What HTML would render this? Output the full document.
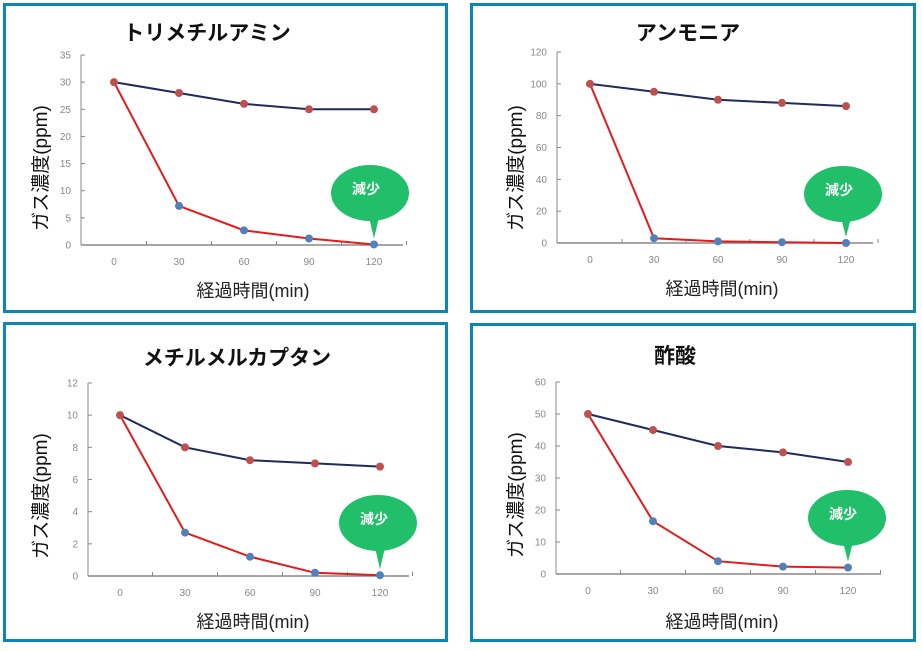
<!DOCTYPE html>
<html><head><meta charset="utf-8">
<style>
html,body{margin:0;padding:0;background:#fff;}
svg{display:block;font-family:"Liberation Sans","Noto Sans CJK JP",sans-serif;}
</style></head>
<body>
<svg id="chart" width="922" height="651" viewBox="0 0 922 651" xmlns="http://www.w3.org/2000/svg"></svg>
<script>
const categories = [0, 30, 60, 90, 120];
const titles = ["トリメチルアミン", "アンモニア", "メチルメルカプタン", "酢酸"];
const yMaxes = [35, 120, 12, 60];
const yStepsVals = [5, 20, 2, 10];
const controlTma = [30, 28, 26, 25, 25];
const treatedTma = [30, 7.2, 2.7, 1.2, 0.1];
const controlNh3 = [100, 95, 90, 88, 86];
const treatedNh3 = [100, 3, 1, 0.5, 0];
const controlMm = [10, 8, 7.2, 7, 6.8];
const treatedMm = [10, 2.7, 1.2, 0.2, 0.05];
const controlAa = [50, 45, 40, 38, 35];
const treatedAa = [50, 16.5, 4, 2.3, 2];

const controls = [controlTma, controlNh3, controlMm, controlAa];
const treateds = [treatedTma, treatedNh3, treatedMm, treatedAa];
// layout (not data)
const layouts = [
  {bx:3,by:3,bw:445,bh:310,ax:81,top:55,bot:245,c0:114,dx:65,xe:403,tx:207,ty:32,xtx:253,xty:290,ytx:40,yty:168,bub:[370,193]},
  {bx:470,by:3,bw:446,bh:310,ax:557,top:52,bot:243,c0:590,dx:64,xe:873,tx:688,ty:32,xtx:722,xty:288,ytx:515,yty:168,bub:[843,194]},
  {bx:3,by:322,bw:445,bh:320,ax:88,top:383,bot:576,c0:120,dx:65,xe:409,tx:237,ty:357,xtx:253,xty:621,ytx:40,yty:496,bub:[378,523]},
  {bx:470,by:323,bw:446,bh:319,ax:556,top:382,bot:574,c0:588,dx:65,xe:881,tx:675,ty:355,xtx:722,xty:621,ytx:515,yty:495,bub:[847,518]}
];
const NS = "http://www.w3.org/2000/svg";
const svg = document.getElementById("chart");
function mk(tag, attrs, parent, text){
  const e = document.createElementNS(NS, tag);
  for (const k in attrs) e.setAttribute(k, attrs[k]);
  if (text !== undefined) e.textContent = text;
  (parent||svg).appendChild(e);
  return e;
}
layouts.forEach((L, i) => {
  const g = mk("g", {});
  
  
  const xS = k => L.c0 + k * L.dx;
  const yS = v => L.bot - v / yMaxes[i] * (L.bot - L.top);
  const frame = mk("rect", {x:L.bx+1.5,y:L.by+1.5,width:L.bw-3,height:L.bh-3,fill:"#fff",stroke:"#0b87b5","stroke-width":3}, g);
  
  
  const t = mk("text", {x:L.tx,y:L.ty+8,"text-anchor":"middle","font-size":21,"font-weight":"bold",fill:"#111"}, g, titles[i]);
  
  
  // axes
  const ya = mk("line", {x1:L.ax,y1:L.top,x2:L.ax,y2:L.bot,stroke:"#888","stroke-width":1}, g);
  
  
  const xa = mk("line", {x1:L.ax,y1:L.bot,x2:L.xe,y2:L.bot,stroke:"#888","stroke-width":1.5}, g);
  
  
  for (let v = 0; v <= yMaxes[i] + 1e-9; v += yStepsVals[i]) {
    const y = yS(v);
    mk("line", {x1:L.ax,y1:y,x2:L.ax+4,y2:y,stroke:"#888"}, g);
    const tl = mk("text", {x:L.ax-10,y:y+3.5,"text-anchor":"end","font-size":10,fill:"#888"}, g, String(v));
    
    
  }
  for (let k = 0; k < categories.length; k++) {
    const x = xS(k);
    mk("line", {x1:x+L.dx/2,y1:L.bot,x2:x+L.dx/2,y2:L.bot-4,stroke:"#888"}, g);
    const xl = mk("text", {x:x,y:L.bot+20,"text-anchor":"middle","font-size":10,fill:"#888"}, g, String(categories[k]));
    
    
  }
  const xt = mk("text", {x:L.xtx,y:L.xty+7,"text-anchor":"middle","font-size":18,fill:"#222"}, g, "経過時間(min)");
  
  
  const yt = mk("text", {x:0,y:0,"text-anchor":"middle","font-size":19,fill:"#111",transform:`translate(${L.ytx+7},${L.yty}) rotate(-90)`}, g, "ガス濃度(ppm)");
  
  
  // series
  const pc = controls[i].map((v,k)=>xS(k)+","+yS(v)).join(" ");
  const lc = mk("polyline", {points:pc,fill:"none",stroke:"#1f2a5e","stroke-width":2}, g);
  
  
  const pt = treateds[i].map((v,k)=>xS(k)+","+yS(v)).join(" ");
  const lt = mk("polyline", {points:pt,fill:"none",stroke:"#e41b1b","stroke-width":2}, g);
  
  
  controls[i].forEach((v,k)=>{
    const c = mk("circle", {cx:xS(k),cy:yS(v),r:4,fill:"#c0504d"}, g);
    
    
  });
  treateds[i].forEach((v,k)=>{
    if (k === 0) return;
    const c = mk("circle", {cx:xS(k),cy:yS(v),r:4,fill:"#4f81bd"}, g);
    
    
  });
  // bubble
  const [bx, by] = L.bub;
  const tipX = xS(4), tipY = yS(treateds[i][4]) - 6;
  const bg = mk("g", {}, g);
  
  
  mk("polygon", {points:`${tipX-6},${by+20} ${tipX+6},${by+20} ${tipX},${tipY}`,fill:"#22bf6b"}, bg);
  mk("ellipse", {cx:bx,cy:by,rx:39,ry:28,fill:"#22bf6b"}, bg);
  mk("text", {x:bx-4,y:by+1,"text-anchor":"middle","font-size":14,"font-weight":"bold",fill:"#fff"}, bg, "減少");
});
</script>
</body></html>
